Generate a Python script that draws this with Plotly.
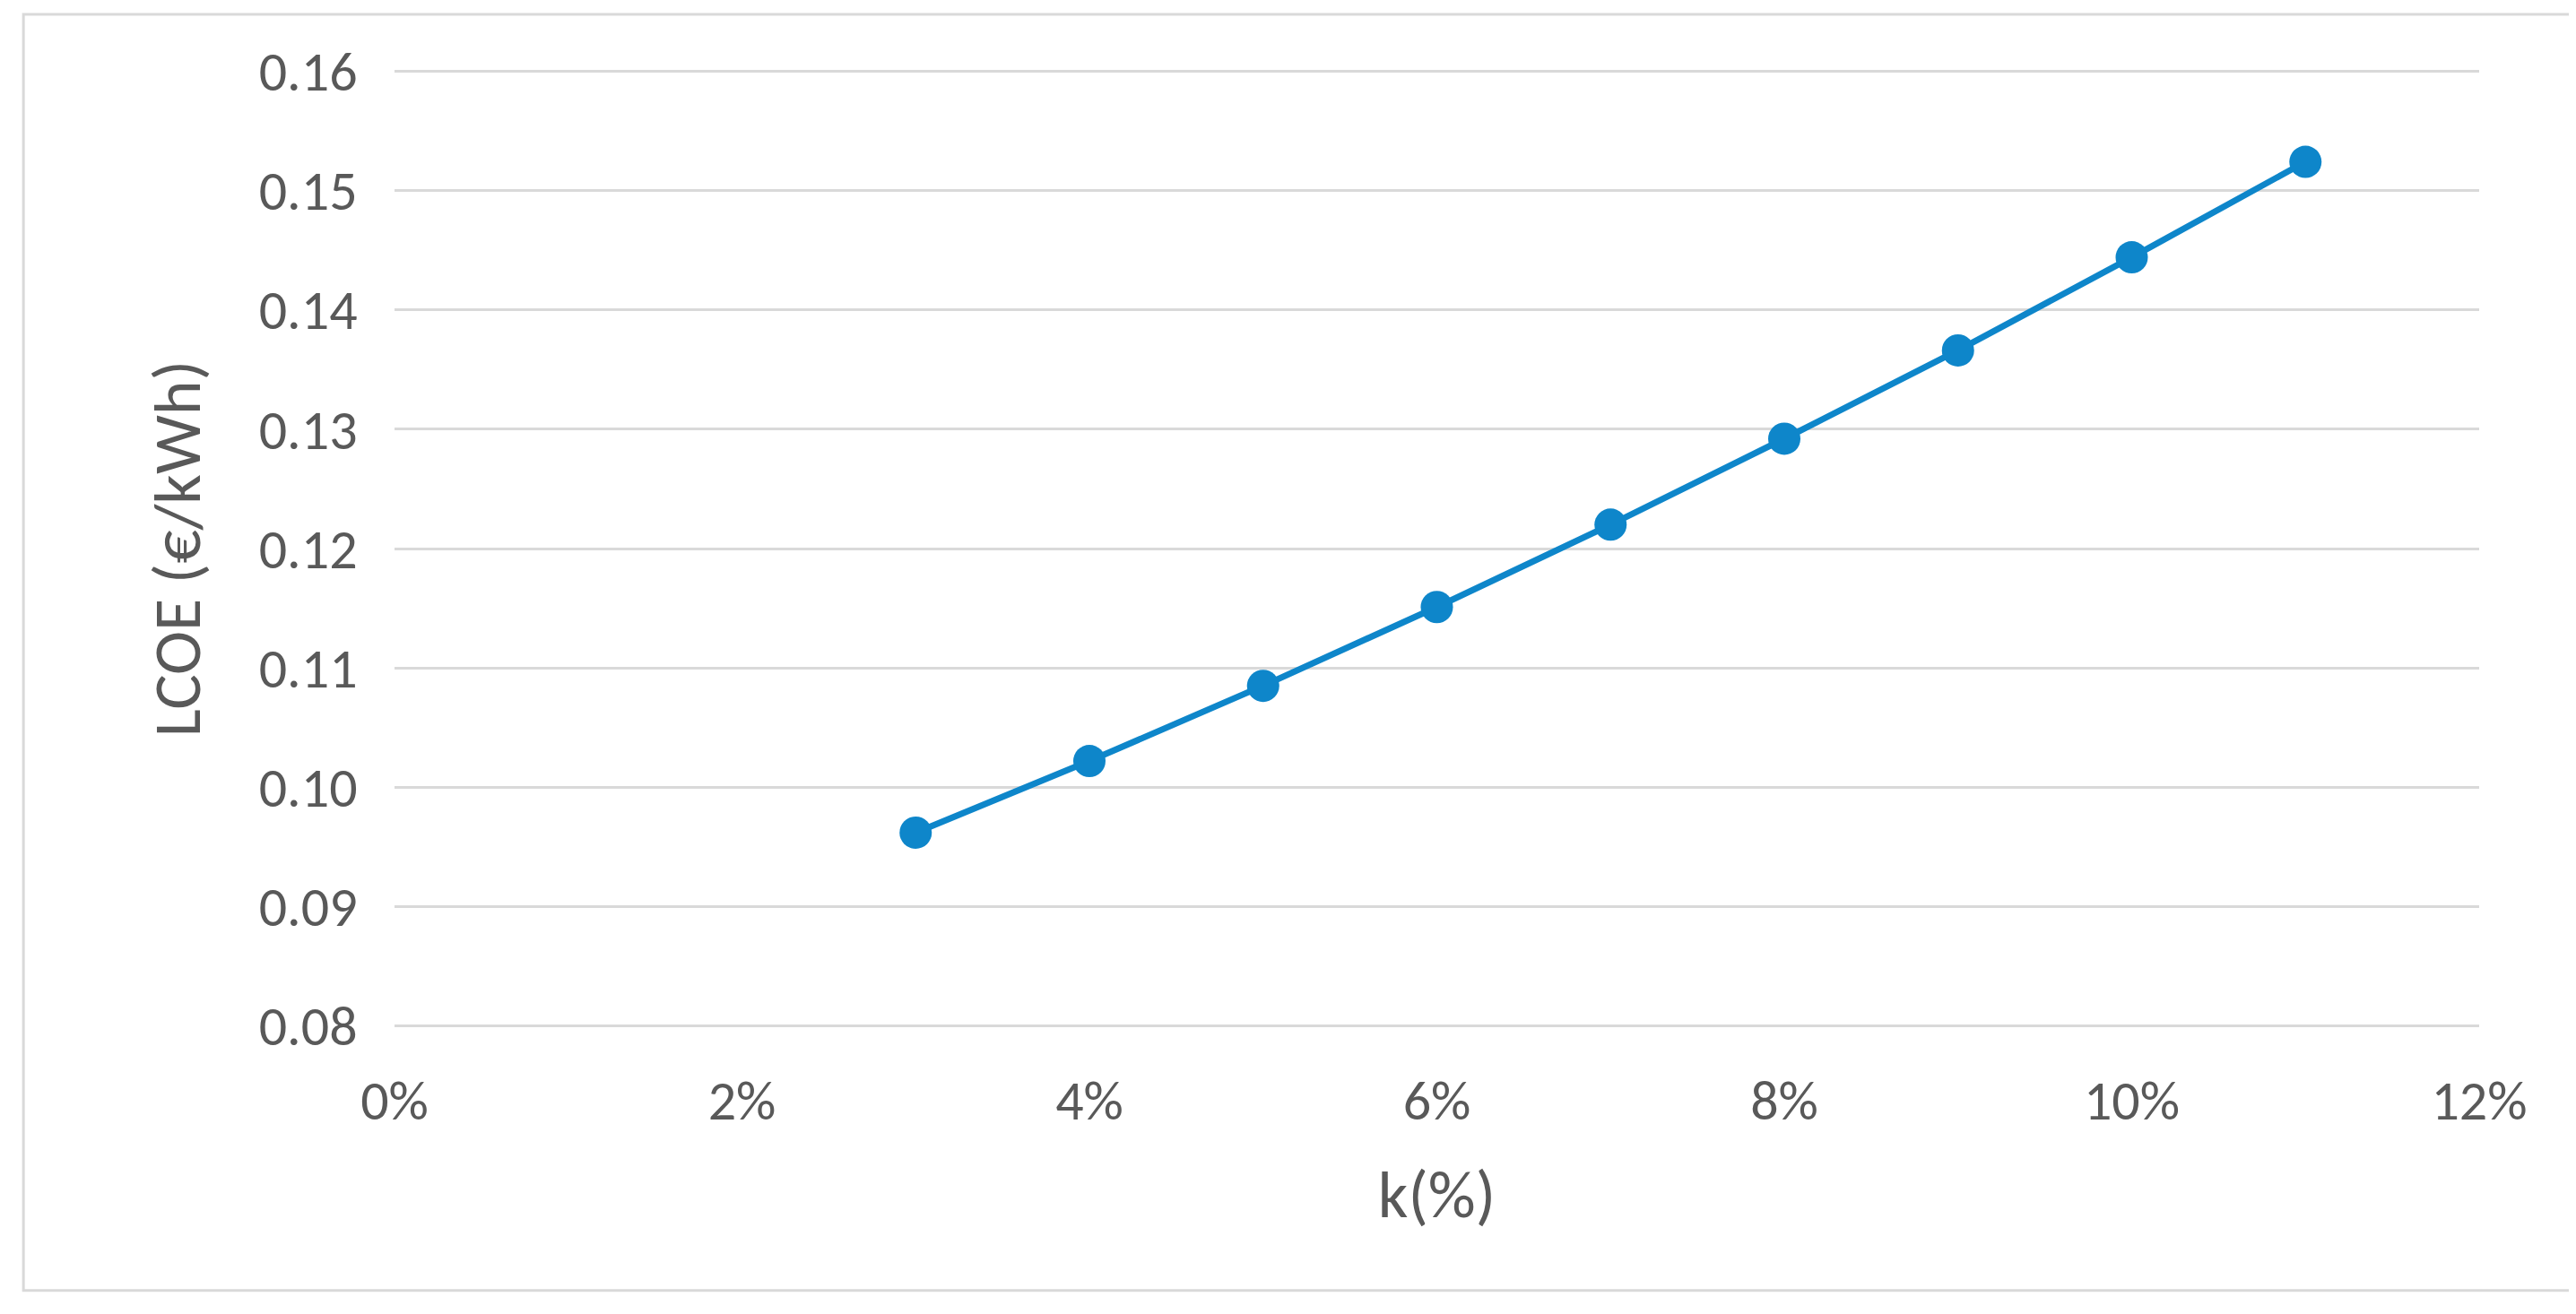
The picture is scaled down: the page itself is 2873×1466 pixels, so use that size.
import plotly.graph_objects as go

k = [0.03, 0.04, 0.05, 0.06, 0.07, 0.08, 0.09, 0.10, 0.11]
lcoe = [0.0962, 0.1022, 0.1085, 0.1151, 0.1220, 0.1292, 0.1366, 0.1444, 0.1524]

fig = go.Figure(go.Scatter(x=k, y=lcoe, mode="lines+markers",
    line=dict(color="#0E86CA", width=7),
    marker=dict(color="#0E86CA", size=36)))

gray = "#595959"
fig.update_layout(
    width=2873, height=1466, paper_bgcolor="white", plot_bgcolor="white",
    margin=dict(l=432, r=116, t=70, b=328),
    showlegend=False,
    font=dict(family="Calibri, Carlito, Liberation Sans, sans-serif", color=gray, size=62),
    shapes=[dict(type="rect", xref="paper", yref="paper", x0=-0.178, x1=1.045, y0=-0.275, y1=1.058,
                 line=dict(color="#D9D9D9", width=3), fillcolor="rgba(0,0,0,0)")],
)
fig.update_xaxes(range=[0, 0.12], dtick=0.02, tickformat=".0%", showgrid=False,
                 zeroline=False, showline=False, ticks="outside", ticklen=28, tickcolor="white",
                 title=dict(text="k(%)", standoff=40))
fig.update_yaxes(range=[0.0799, 0.1601], dtick=0.01, tickformat=".2f", showgrid=True,
                 gridcolor="#D9D9D9", gridwidth=2.5, zeroline=False, showline=False,
                 ticks="outside", ticklen=28, tickcolor="white",
                 title=dict(text="LCOE (€/kWh)", standoff=40))
fig.write_html("out.html")
